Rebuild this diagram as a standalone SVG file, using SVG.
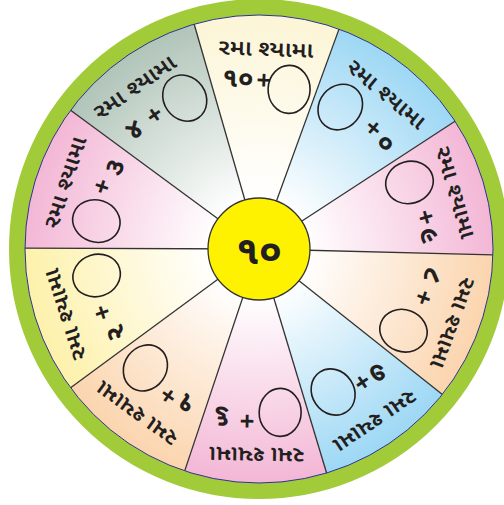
<svg xmlns="http://www.w3.org/2000/svg" width="504" height="505" viewBox="0 0 504 505">
<defs>
<radialGradient id="gCream" gradientUnits="userSpaceOnUse" cx="259" cy="249" r="236"><stop offset="0.2" stop-color="#ffffff"/><stop offset="1" stop-color="#fcf5d6"/></radialGradient>
<radialGradient id="gBlue" gradientUnits="userSpaceOnUse" cx="259" cy="249" r="236"><stop offset="0.2" stop-color="#ffffff"/><stop offset="1" stop-color="#9cd7f4"/></radialGradient>
<radialGradient id="gPink" gradientUnits="userSpaceOnUse" cx="259" cy="249" r="236"><stop offset="0.2" stop-color="#ffffff"/><stop offset="1" stop-color="#f3b6d5"/></radialGradient>
<radialGradient id="gPeach" gradientUnits="userSpaceOnUse" cx="259" cy="249" r="236"><stop offset="0.2" stop-color="#ffffff"/><stop offset="1" stop-color="#fbd4ad"/></radialGradient>
<radialGradient id="gYellow" gradientUnits="userSpaceOnUse" cx="259" cy="249" r="236"><stop offset="0.2" stop-color="#ffffff"/><stop offset="1" stop-color="#fdf1aa"/></radialGradient>
<radialGradient id="gGray" gradientUnits="userSpaceOnUse" cx="259" cy="249" r="236"><stop offset="0.2" stop-color="#ffffff"/><stop offset="1" stop-color="#b0c4b8"/></radialGradient>
</defs>
<style>
.lbl{font-family:"Noto Sans Gujarati","Lohit Gujarati","Noto Sans",sans-serif;font-size:22px;font-weight:600;fill:#231f20;text-anchor:middle}
.num{font-family:"Noto Sans Gujarati","Lohit Gujarati","Noto Sans",sans-serif;font-size:27px;font-weight:bold;fill:#231f20;text-anchor:middle}
.plus{font-family:"Liberation Sans",sans-serif;font-size:25px;font-weight:bold;fill:#231f20;text-anchor:middle}
.oval{fill:none;stroke:#231f20;stroke-width:1.6}
.spoke{stroke:#333333;stroke-width:1.3}
</style>
<rect width="504" height="505" fill="#ffffff"/>

<g id="sector-1">
<path d="M259 249 L193.6 22.3 A236 236 0 0 1 339.7 27.2 Z" fill="url(#gCream)"/>
<g transform="rotate(2 259 249)">
<text class="lbl" x="259" y="56" textLength="95" lengthAdjust="spacingAndGlyphs">રમા શ્યામા</text>
<text class="num" x="232" y="88">૧૦</text><text class="plus" x="258" y="88.5">+</text>
<ellipse class="oval" cx="283.5" cy="88.4" rx="21" ry="24"/>
</g></g>

<g id="sector-2">
<path d="M259 249 L339.7 27.2 A236 236 0 0 1 456.7 120.1 Z" fill="url(#gBlue)"/>
<g transform="rotate(40 259 249)">
<text class="lbl" x="257" y="56" textLength="95" lengthAdjust="spacingAndGlyphs">રમા શ્યામા</text>
<ellipse class="oval" cx="230" cy="88" rx="21" ry="24"/>
<text class="plus" x="269" y="91">+</text><text class="num" x="288" y="95">૦</text>
</g></g>

<g id="sector-3">
<path d="M259 249 L456.7 120.1 A236 236 0 0 1 494.9 254.8 Z" fill="url(#gPink)"/>
<g transform="rotate(74 259 249)">
<text class="lbl" x="258.6" y="52" textLength="95" lengthAdjust="spacingAndGlyphs">રમા શ્યામા</text>
<ellipse class="oval" cx="236.5" cy="86" rx="21" ry="24"/>
<text class="plus" x="274.6" y="88">+</text><text class="num" x="292.5" y="90">૯</text>
</g></g>

<g id="sector-4">
<path d="M259 249 L494.9 254.8 A236 236 0 0 1 444 395.6 Z" fill="url(#gPeach)"/>
<g transform="rotate(110 259 249)">
<text class="lbl" x="262" y="49" textLength="95" lengthAdjust="spacingAndGlyphs">રમા શ્યામા</text>
<text class="num" x="224.7" y="85">૮</text><text class="plus" x="248.6" y="86">+</text>
<ellipse class="oval" cx="286.3" cy="85.3" rx="21" ry="24"/>
</g></g>

<g id="sector-5">
<path d="M259 249 L444 395.6 A236 236 0 0 1 327.2 474.9 Z" fill="url(#gBlue)"/>
<g transform="rotate(146 259 249)">
<text class="lbl" x="259" y="49" textLength="95" lengthAdjust="spacingAndGlyphs">રમા શ્યામા</text>
<text class="num" x="229.7" y="88">૭</text><text class="plus" x="247.9" y="89">+</text>
<ellipse class="oval" cx="277.5" cy="89" rx="21" ry="24"/>
</g></g>

<g id="sector-6">
<path d="M259 249 L327.2 474.9 A236 236 0 0 1 184.1 472.8 Z" fill="url(#gPink)"/>
<g transform="rotate(181 259 249)">
<text class="lbl" x="257.6" y="50.5" textLength="95" lengthAdjust="spacingAndGlyphs">રમા શ્યામા</text>
<ellipse class="oval" cx="235" cy="86" rx="21" ry="24"/>
<text class="plus" x="268" y="85">+</text><text class="num" x="293" y="88">૬</text>
</g></g>

<g id="sector-7">
<path d="M259 249 L184.1 472.8 A236 236 0 0 1 69 389 Z" fill="url(#gPeach)"/>
<g transform="rotate(216 259 249)">
<text class="lbl" x="261" y="51.5" textLength="95" lengthAdjust="spacingAndGlyphs">રમા શ્યામા</text>
<text class="num" x="227" y="90">૧</text><text class="plus" x="246" y="85">+</text>
<ellipse class="oval" cx="281" cy="86" rx="21" ry="24"/>
</g></g>

<g id="sector-8">
<path d="M259 249 L69 389 A236 236 0 0 1 23 248.2 Z" fill="url(#gYellow)"/>
<g transform="rotate(252 259 249)">
<text class="lbl" x="256.5" y="52" textLength="95" lengthAdjust="spacingAndGlyphs">રમા શ્યામા</text>
<text class="num" x="223.4" y="95">૨</text><text class="plus" x="247" y="88.5">+</text>
<ellipse class="oval" cx="284" cy="86.4" rx="21" ry="24"/>
</g></g>

<g id="sector-9">
<path d="M259 249 L23 248.2 A236 236 0 0 1 69 109 Z" fill="url(#gPink)"/>
<g transform="rotate(288 259 249)">
<text class="lbl" x="262.6" y="51.5" textLength="95" lengthAdjust="spacingAndGlyphs">રમા શ્યામા</text>
<ellipse class="oval" cx="235.3" cy="85.7" rx="21" ry="24"/>
<text class="plus" x="270" y="88.5">+</text><text class="num" x="292" y="95">૩</text>
</g></g>

<g id="sector-10">
<path d="M259 249 L69 109 A236 236 0 0 1 193.6 22.3 Z" fill="url(#gGray)"/>
<g transform="rotate(325 259 249)">
<text class="lbl" x="250" y="52.5" textLength="95" lengthAdjust="spacingAndGlyphs">રમા શ્યામા</text>
<text class="num" x="225.4" y="88">૪</text><text class="plus" x="250.4" y="87.5">+</text>
<ellipse class="oval" cx="284.7" cy="82.8" rx="21" ry="24"/>
</g></g>

<g id="spokes">
<line class="spoke" x1="259" y1="249" x2="194.2" y2="24.2"/>
<line class="spoke" x1="259" y1="249" x2="339" y2="29.1"/>
<line class="spoke" x1="259" y1="249" x2="455" y2="121.2"/>
<line class="spoke" x1="259" y1="249" x2="492.9" y2="254.8"/>
<line class="spoke" x1="259" y1="249" x2="442.4" y2="394.4"/>
<line class="spoke" x1="259" y1="249" x2="326.6" y2="473"/>
<line class="spoke" x1="259" y1="249" x2="184.7" y2="470.9"/>
<line class="spoke" x1="259" y1="249" x2="70.6" y2="387.8"/>
<line class="spoke" x1="259" y1="249" x2="25" y2="248.2"/>
<line class="spoke" x1="259" y1="249" x2="70.6" y2="110.2"/>
</g>

<g id="rim">
<circle cx="259" cy="249" r="242" fill="none" stroke="#a2cb3a" stroke-width="16"/>
<circle cx="259" cy="249" r="234" fill="none" stroke="#2e3192" stroke-width="1"/>
</g>

<g id="hub">
<circle cx="259" cy="249" r="51" fill="#fff200" stroke="#333333" stroke-width="1.3"/>
<text class="num" x="259" y="264" style="font-size:40px">૧૦</text>
</g>
</svg>
